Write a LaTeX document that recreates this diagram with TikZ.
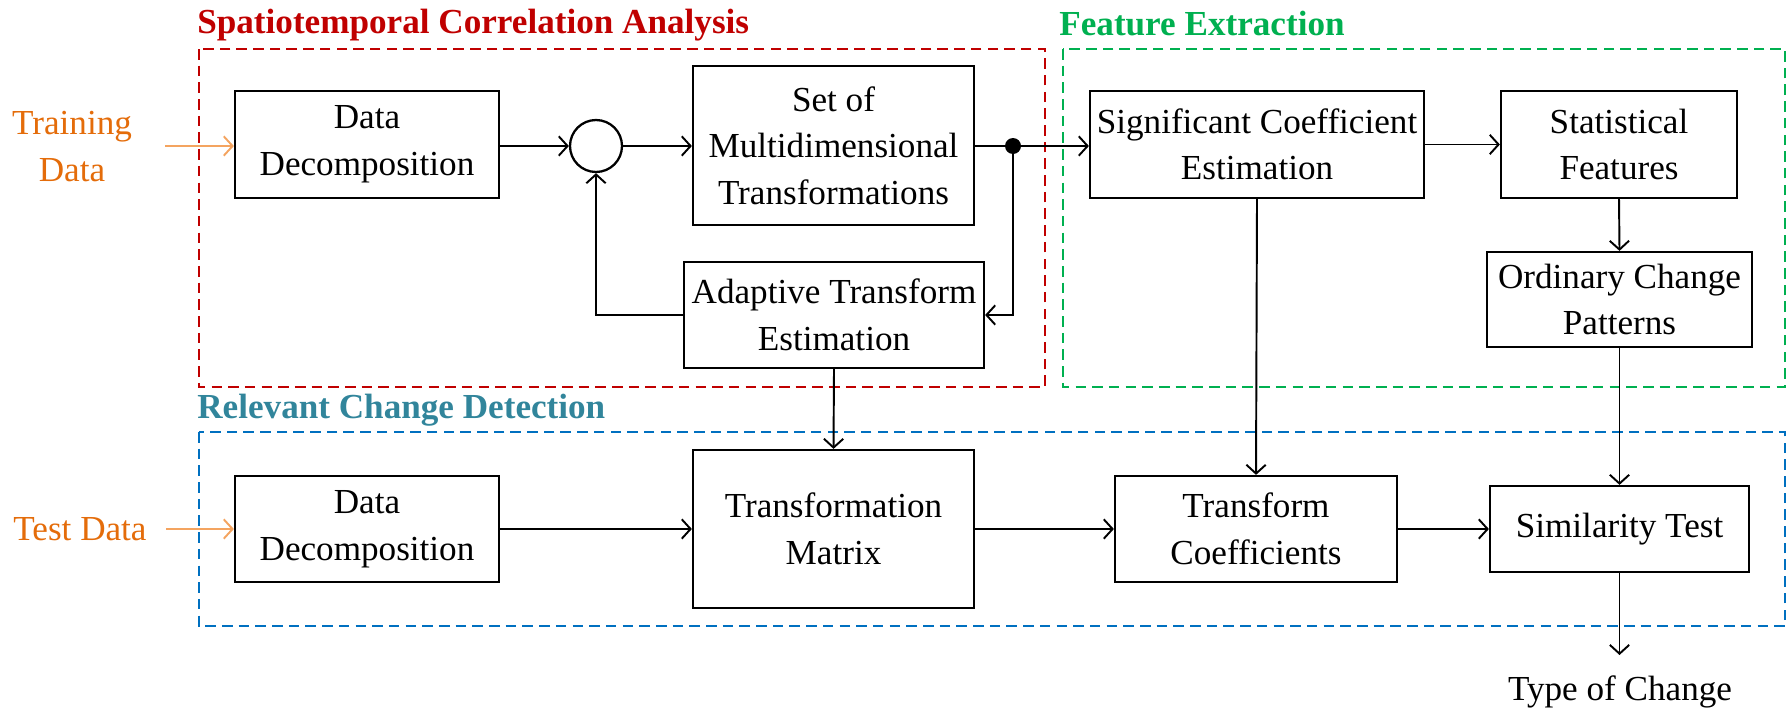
\documentclass[tikz,border=0pt]{standalone}
\usepackage{fontspec}
\setmainfont{Liberation Serif}
\usetikzlibrary{arrows.meta}
\definecolor{cred}{RGB}{192,0,0}
\definecolor{cgreen}{RGB}{0,176,80}
\definecolor{cteal}{RGB}{49,133,155}
\definecolor{cblue}{RGB}{0,112,192}
\definecolor{corange}{RGB}{228,108,10}
\definecolor{carrow}{RGB}{244,164,96}
\tikzset{
  box/.style={draw, line width=1.3pt, align=center, inner sep=0pt, font=\fontsize{20}{26.5}\selectfont},
  conn/.style={line width=1.1pt, -{Straight Barb[length=5pt,width=11pt,line width=1.1pt]}},
  plain/.style={line width=1.1pt},
  group/.style={dashed, line width=1.2pt, dash pattern=on 6pt off 3.5pt},
  gtitle/.style={font=\fontsize{20}{24}\selectfont\bfseries, anchor=west, inner sep=0pt},
  lbl/.style={align=center, inner sep=0pt, font=\fontsize{20}{26.5}\selectfont},
}
\begin{document}
\begin{tikzpicture}[x=0.02cm, y=-0.02cm]
\useasboundingbox (0,0) rectangle (1791,710);
% group frames
\draw[group, cred] (199,49) rectangle (1045,387);
\draw[group, cgreen] (1063,49) rectangle (1785,387);
\draw[group, cblue] (199,432) rectangle (1785,626);
\node[gtitle, cred] (t1) at (197,25) {Spatiotemporal Correlation Analysis};
\node[gtitle, cgreen] (t2) at (1059,24) {Feature Extraction};
\node[gtitle, cteal] (t3) at (197,410) {Relevant Change Detection};
% nodes
\node[box, minimum width=5.28cm, minimum height=2.14cm] (dd1) at (367,144.5) {Data\\Decomposition};
\node[draw, circle, line width=1.3pt, minimum size=1.04cm, inner sep=0pt] (sum) at (596,146) {};
\node[box, minimum width=5.62cm, minimum height=3.18cm] (set) at (833.5,145.5) {Set of\\Multidimensional\\Transformations};
\node[box, minimum width=6.0cm, minimum height=2.12cm] (ada) at (834,315) {Adaptive Transform\\Estimation};
\node[box, minimum width=6.68cm, minimum height=2.14cm] (sig) at (1257,144.5) {Significant Coefficient\\Estimation};
\node[box, minimum width=4.72cm, minimum height=2.14cm] (stat) at (1619,144.5) {Statistical\\Features};
\node[box, minimum width=5.3cm, minimum height=1.9cm] (ord) at (1619.5,299.5) {Ordinary Change\\Patterns};
\node[box, minimum width=5.28cm, minimum height=2.12cm] (dd2) at (367,529) {Data\\Decomposition};
\node[box, minimum width=5.62cm, minimum height=3.16cm] (tm) at (833.5,529) {Transformation\\Matrix};
\node[box, minimum width=5.64cm, minimum height=2.12cm] (tc) at (1256,529) {Transform\\Coefficients};
\node[box, minimum width=5.18cm, minimum height=1.72cm] (sim) at (1619.5,529) {Similarity Test};
\node[fill, circle, inner sep=0pt, minimum size=0.32cm] (dot) at (1013,146) {};
% inputs / output
\node[lbl, text=corange] (train) at (72,146.5) {Training\\Data};
\node[lbl, text=corange] (test) at (80,529) {Test Data};
\node[lbl] (type) at (1620,692) {Type of Change};
\coordinate (trs) at (165,146);
\coordinate (tes) at (166,529);
\coordinate (tend) at (1619.5,655);
% connectors
\draw[conn, carrow, line width=1.4pt] (trs) -- (dd1.west |- trs);
\draw[conn, carrow, line width=1.4pt] (tes) -- (dd2.west);
\draw[conn] (dd1.east |- sum) -- (sum.west);
\draw[conn] (sum.east) -- (set.west |- sum);
\draw[conn] (set.east |- dot) -- (sig.west |- dot);
\draw[conn] (dot.center) |- (ada.east);
\draw[conn] (ada.west) -| (sum.south);
\draw[conn] (ada.south) -- (tm.north);
\draw[conn] (sig.east) -- (stat.west);
\draw[conn] (stat.south) -- (ord.north);
\draw[conn] (sig.south) -- (tc.north);
\draw[conn] (ord.south) -- (sim.north);
\draw[conn] (dd2.east) -- (tm.west);
\draw[conn] (tm.east) -- (tc.west);
\draw[conn] (tc.east) -- (sim.west);
\draw[conn] (sim.south) -- (tend);
\end{tikzpicture}
\end{document}
